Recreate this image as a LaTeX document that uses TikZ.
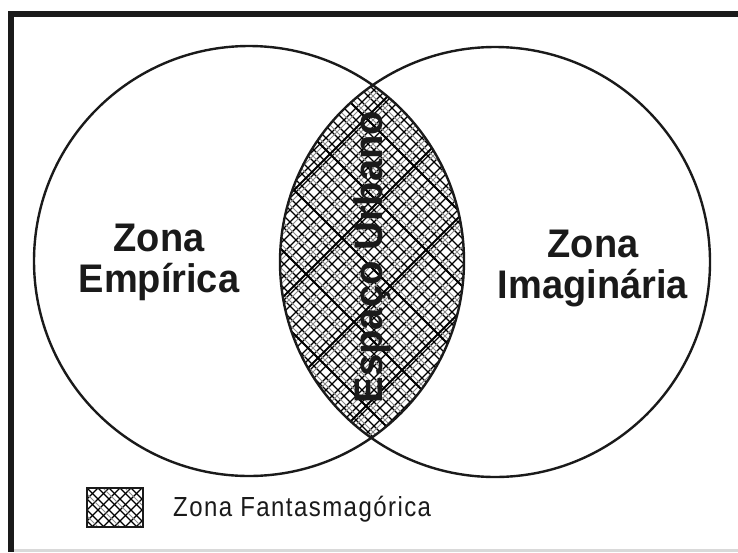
\documentclass[tikz,border=0pt]{standalone}
\usepackage{fontspec}
\usepackage{graphicx}
\setmainfont{Liberation Sans}
\definecolor{ink}{HTML}{1A1A1A}
\newcommand{\tallbig}[1]{\scalebox{1}[1.05]{#1}}
\begin{document}
\begin{tikzpicture}[x=1pt,y=-1pt,
  ring/.style={draw=ink,line width=2.4pt},
  hatchA/.style={draw=black,line width=1.3pt},
  hatchB/.style={draw=black!45,line width=0.8pt},
  hatchC/.style={draw=black,line width=2pt},
  biglabel/.style={text=ink,font=\fontsize{38}{41}\selectfont\bfseries,inner sep=0pt,align=center},
  legendtext/.style={text=ink,font=\fontsize{24}{26}\selectfont\addfontfeatures{LetterSpace=6},inner sep=0pt}]
\useasboundingbox (0,0) rectangle (738,552);
\fill[white] (0,0) rectangle (738,552);
% frame
\draw[black!15,line width=3pt] (14,550.5) -- (738,550.5);
\draw[ink,line width=6pt] (8,14) -- (738,14);
\draw[ink,line width=6pt] (11,11) -- (11,552);
% hatched lens
\coordinate (cL) at (249,261);
\coordinate (cR) at (495,262);
\begin{scope}
  \clip (cL) circle[radius=215pt];
  \clip (cR) circle[radius=215pt];
  \foreach \i in {-400,-388,...,1200} {
    \draw[hatchA] (\i,0) -- (\i+600,600);
    \draw[hatchA] (\i,0) -- (\i-600,600);
  }
  \foreach \i in {-395,-371,...,1200} {
    \draw[hatchB] (\i,0) -- (\i+600,600);
    \draw[hatchB] (\i,0) -- (\i-600,600);
  }
  \foreach \i in {-400,-328,...,1200} {
    \draw[hatchC] (\i,0) -- (\i+600,600);
  }
  \foreach \i in {-380,-284,...,1200} {
    \draw[hatchC] (\i,0) -- (\i-600,600);
  }
\end{scope}
% circles
\draw[ring] (cL) circle[radius=215pt];
\draw[ring] (cR) circle[radius=215pt];
% labels
\node[biglabel] (zl) at (159,262) {\tallbig{Zona}\\\tallbig{Empírica}};
\node[biglabel] (zr) at (593,268) {\tallbig{Zona}\\\tallbig{Imaginária}};
\node[biglabel,rotate=90] (eu) at (372,257) {\scalebox{1.05}[1.05]{Espaço Urbano}};
% legend
\begin{scope}
  \clip (87,488) rectangle (143,527);
  \foreach \i in {-100,-89,...,300} {
    \draw[hatchA] (\i,400) -- (\i+200,600);
    \draw[hatchA] (\i,400) -- (\i-200,600);
  }
  \foreach \i in {-95,-73,...,300} {
    \draw[hatchB] (\i,400) -- (\i+200,600);
  }
\end{scope}
\node[draw=ink,line width=2pt,minimum width=56pt,minimum height=39pt,inner sep=0pt] (lg) at (115,507.5) {};
\node[legendtext,anchor=base west] (lt) at (173,516) {\scalebox{1}[1.15]{Zona Fantasmagórica}};
\end{tikzpicture}
\end{document}
